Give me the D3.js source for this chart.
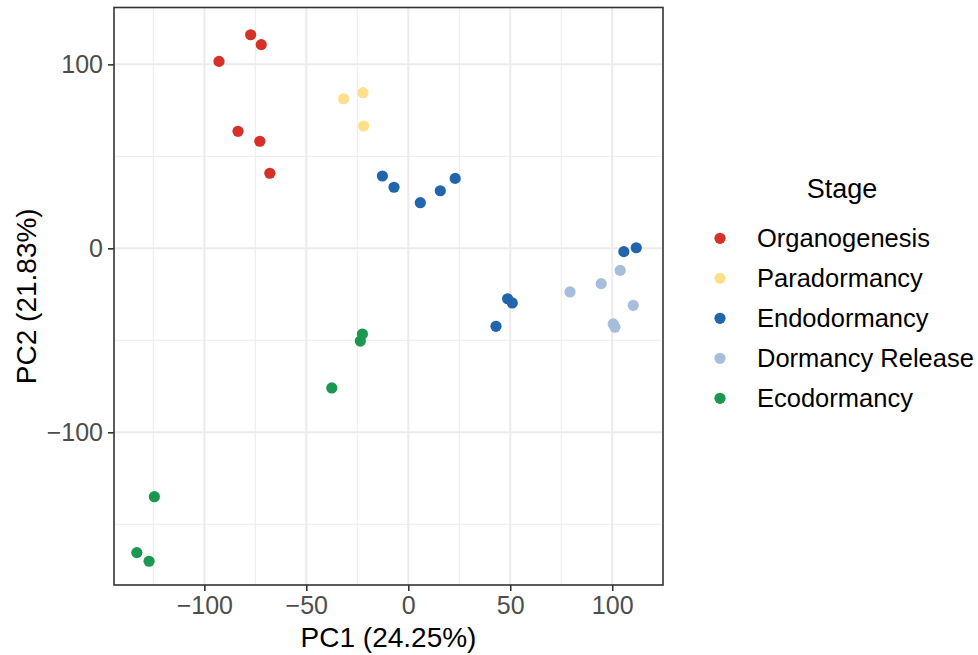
<!DOCTYPE html>
<html>
<head>
<meta charset="utf-8">
<script src="https://cdn.jsdelivr.net/npm/d3@7"></script>
<style>
  body { margin: 0; background: #fff; }
  text { font-family: "Liberation Sans", Arial, sans-serif; }
</style>
</head>
<body>
<svg id="canvas" width="978" height="655"></svg>
<script>
// stages in legend order and their colours
var stages = ["Organogenesis", "Paradormancy", "Endodormancy", "Dormancy Release", "Ecodormancy"];
var stageColors = ["#D73027", "#FEE08B", "#2166AC", "#A6BDDB", "#1A9850"];

// PCA scores, one array per stage
var organogenesisPC1 = [-77.3, -72.1, -92.8, -83.5, -72.8, -67.9];
var organogenesisPC2 = [116.1, 110.7, 101.6, 63.6, 58.2, 40.8];
var paradormancyPC1 = [-31.7, -22.2, -21.9];
var paradormancyPC2 = [81.3, 84.6, 66.5];
var endodormancyPC1 = [-12.7, -7.0, 5.9, 15.7, 23.0, 105.7, 111.8, 48.7, 51.0, 43.0];
var endodormancyPC2 = [39.3, 33.2, 24.8, 31.3, 38.0, -1.8, 0.3, -27.4, -29.7, -42.4];
var releasePC1 = [79.3, 94.6, 103.9, 110.3, 100.5, 101.3];
var releasePC2 = [-23.7, -19.2, -12.0, -31.0, -41.1, -42.9];
var ecodormancyPC1 = [-22.5, -23.5, -37.5, -124.5, -133.1, -127.1];
var ecodormancyPC2 = [-46.6, -50.4, -75.9, -135.0, -165.4, -170.1];

var xTicks = [-100, -50, 0, 50, 100];
var yTicks = [-100, 0, 100];
var xTitle = "PC1 (24.25%)";
var yTitle = "PC2 (21.83%)";
var legendTitle = "Stage";

var pc1ByStage = [organogenesisPC1, paradormancyPC1, endodormancyPC1, releasePC1, ecodormancyPC1];
var pc2ByStage = [organogenesisPC2, paradormancyPC2, endodormancyPC2, releasePC2, ecodormancyPC2];

var points = [];
stages.forEach(function(stage, i) {
    pc1ByStage[i].forEach(function(v, j) {
        points.push({stage: stage, pc1: v, pc2: pc2ByStage[i][j]});
    });
});

var panel = {left: 114, right: 663, top: 7.5, bottom: 585};

var x = d3.scaleLinear().domain([-144.3, 124.9]).range([panel.left, panel.right]);
var y = d3.scaleLinear().domain([-183, 130.9]).range([panel.bottom, panel.top]);
var color = d3.scaleOrdinal().domain(stages).range(stageColors);

var svg = d3.select("#canvas");

// panel background
svg.append("rect")
    .attr("x", panel.left).attr("y", panel.top)
    .attr("width", panel.right - panel.left).attr("height", panel.bottom - panel.top)
    .attr("fill", "#fff");

// minor grid at midpoints
var xMinor = [-125, -75, -25, 25, 75, 125].filter(function(v) { return v > x.domain()[0] && v < x.domain()[1]; });
var yMinor = [-150, -50, 50].filter(function(v) { return v > y.domain()[0] && v < y.domain()[1]; });

var grid = svg.append("g");
grid.selectAll(".xminor").data(xMinor).enter().append("line")
    .attr("x1", x).attr("x2", x).attr("y1", panel.top).attr("y2", panel.bottom)
    .attr("stroke", "#EBEBEB").attr("stroke-width", 1);
grid.selectAll(".yminor").data(yMinor).enter().append("line")
    .attr("y1", y).attr("y2", y).attr("x1", panel.left).attr("x2", panel.right)
    .attr("stroke", "#EBEBEB").attr("stroke-width", 1);
grid.selectAll(".xmajor").data(xTicks).enter().append("line")
    .attr("x1", x).attr("x2", x).attr("y1", panel.top).attr("y2", panel.bottom)
    .attr("stroke", "#EBEBEB").attr("stroke-width", 2);
grid.selectAll(".ymajor").data(yTicks).enter().append("line")
    .attr("y1", y).attr("y2", y).attr("x1", panel.left).attr("x2", panel.right)
    .attr("stroke", "#EBEBEB").attr("stroke-width", 2);

// points
svg.append("g").selectAll("circle")
    .data(points)
    .enter().append("circle")
    .attr("cx", function(d) { return x(d.pc1); })
    .attr("cy", function(d) { return y(d.pc2); })
    .attr("r", 5.6)
    .attr("fill", function(d) { return color(d.stage); });

// panel border
svg.append("rect")
    .attr("x", panel.left).attr("y", panel.top)
    .attr("width", panel.right - panel.left).attr("height", panel.bottom - panel.top)
    .attr("fill", "none").attr("stroke", "#333333").attr("stroke-width", 1.6);

// axes
var fmt = function(d) { return d < 0 ? "\u2212" + Math.abs(d) : String(d); };

var xAxis = svg.append("g")
    .attr("transform", "translate(0," + panel.bottom + ")")
    .call(d3.axisBottom(x).tickValues(xTicks).tickFormat(fmt).tickSize(6).tickPadding(5));
var yAxis = svg.append("g")
    .attr("transform", "translate(" + panel.left + ",0)")
    .call(d3.axisLeft(y).tickValues(yTicks).tickFormat(fmt).tickSize(6).tickPadding(5));

[xAxis, yAxis].forEach(function(ax) {
    ax.select(".domain").remove();
    ax.selectAll(".tick line").attr("stroke", "#333333").attr("stroke-width", 1.6);
    ax.selectAll(".tick text")
        .attr("fill", "#4D4D4D")
        .style("font-size", "25px")
        .style("font-family", "'Liberation Sans', Arial, sans-serif");
});

svg.append("text")
    .attr("x", (panel.left + panel.right) / 2).attr("y", 647)
    .attr("text-anchor", "middle")
    .style("font-size", "28px")
    .text(xTitle);

svg.append("text")
    .attr("transform", "translate(36," + (panel.top + panel.bottom) / 2 + ") rotate(-90)")
    .attr("text-anchor", "middle")
    .style("font-size", "28px")
    .text(yTitle);

// legend
var legend = svg.append("g");
legend.append("text")
    .attr("x", 842).attr("y", 198)
    .attr("text-anchor", "middle")
    .style("font-size", "27px")
    .text(legendTitle);

var items = legend.selectAll(".item").data(stages).enter().append("g")
    .attr("transform", function(d, i) { return "translate(0," + (238.3 + i * 40) + ")"; });
items.append("circle")
    .attr("cx", 720).attr("cy", 0).attr("r", 5.6)
    .attr("fill", function(d) { return color(d); });
items.append("text")
    .attr("x", 757).attr("y", 0)
    .attr("dy", "0.35em")
    .style("font-size", "25.5px")
    .text(function(d) { return d; });
</script>
</body>
</html>
